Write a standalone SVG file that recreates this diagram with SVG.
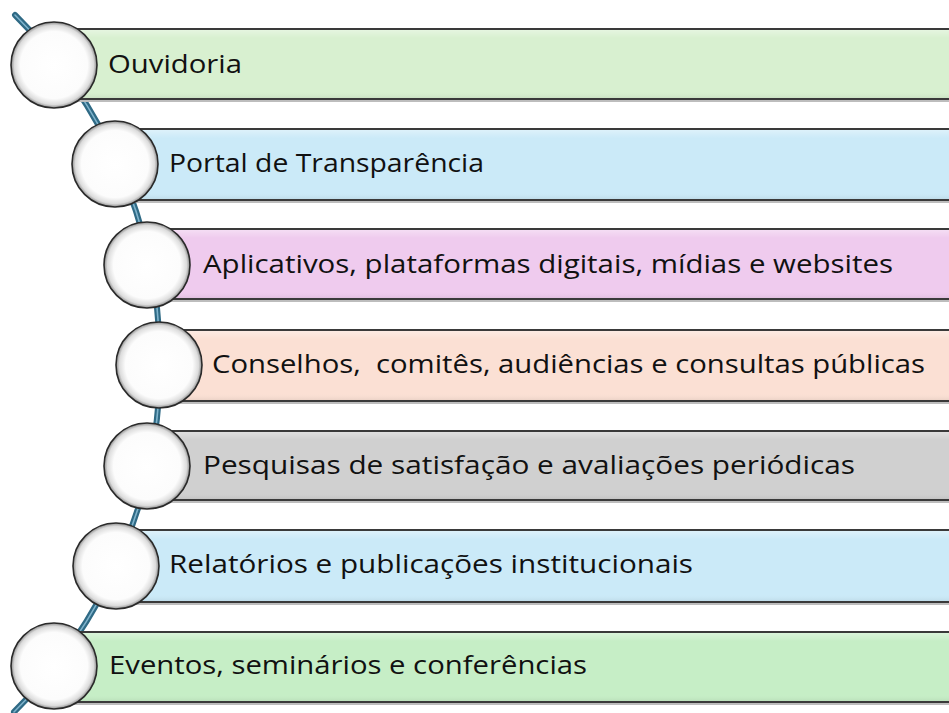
<svg xmlns="http://www.w3.org/2000/svg" width="949" height="713" viewBox="0 0 949 713">
<defs>
<radialGradient id="ball" cx="50%" cy="50%" r="50%">
<stop offset="0" stop-color="#ffffff"/>
<stop offset="0.78" stop-color="#fcfcfc"/>
<stop offset="0.92" stop-color="#dcdcdc"/>
<stop offset="1" stop-color="#8c8c8c"/>
</radialGradient>
<linearGradient id="sheen" x1="0" y1="0" x2="0" y2="1">
<stop offset="0" stop-color="#ffffff" stop-opacity="0.35"/>
<stop offset="0.12" stop-color="#ffffff" stop-opacity="0"/>
<stop offset="0.9" stop-color="#ffffff" stop-opacity="0"/>
<stop offset="1" stop-color="#000000" stop-opacity="0.06"/>
</linearGradient>
</defs>
<style>
.bar{stroke:#3a3a3a;stroke-width:2}
.shade{fill:url(#sheen)}
.shadow{fill:#bdbdbd}
.ball{fill:url(#ball);stroke:#2a2a2a;stroke-width:1.6}
.lbl{font-family:"Open Sans","Liberation Sans",sans-serif;font-size:25px;fill:#111111}
</style>
<g id="connectors">
<path d="M15,15 A490,490 0 0 1 14,712" fill="none" stroke="#2f6a85" stroke-width="6" stroke-linecap="round"/>
<path d="M15,15 A490,490 0 0 1 14,712" fill="none" stroke="#7fb3cc" stroke-width="1.6" stroke-linecap="round"/>
</g>
<g id="n1">
<rect class="shadow" x="54" y="100" width="900" height="2"/>
<rect class="bar" x="54" y="29" width="900" height="70" fill="#d8f0d0"/>
<rect class="shade" x="55" y="30" width="898" height="68"/>
<circle class="ball" cx="54" cy="65" r="43"/>
<text class="lbl" x="108" y="73" textLength="134" lengthAdjust="spacingAndGlyphs">Ouvidoria</text>
</g>
<g id="n2">
<rect class="shadow" x="115" y="201" width="840" height="2"/>
<rect class="bar" x="115" y="129" width="840" height="71" fill="#cbeaf8"/>
<rect class="shade" x="116" y="130" width="838" height="69"/>
<circle class="ball" cx="115" cy="164" r="43"/>
<text class="lbl" x="169" y="172" textLength="315" lengthAdjust="spacingAndGlyphs">Portal de Transparência</text>
</g>
<g id="n3">
<rect class="shadow" x="147" y="300" width="810" height="2"/>
<rect class="bar" x="147" y="229" width="810" height="70" fill="#efcbee"/>
<rect class="shade" x="148" y="230" width="808" height="68"/>
<circle class="ball" cx="147" cy="265" r="43"/>
<text class="lbl" x="203" y="273" textLength="690" lengthAdjust="spacingAndGlyphs">Aplicativos, plataformas digitais, mídias e websites</text>
</g>
<g id="n4">
<rect class="shadow" x="159" y="402" width="800" height="2"/>
<rect class="bar" x="159" y="330" width="800" height="71" fill="#fbe0d4"/>
<rect class="shade" x="160" y="331" width="798" height="69"/>
<circle class="ball" cx="159" cy="365" r="43"/>
<text class="lbl" x="212" y="373" textLength="713" lengthAdjust="spacingAndGlyphs" xml:space="preserve">Conselhos,  comitês, audiências e consultas públicas</text>
</g>
<g id="n5">
<rect class="shadow" x="147" y="501" width="810" height="2"/>
<rect class="bar" x="147" y="431" width="810" height="69" fill="#d0d0d0"/>
<rect class="shade" x="148" y="432" width="808" height="67"/>
<circle class="ball" cx="147" cy="466" r="43"/>
<text class="lbl" x="203" y="474" textLength="652" lengthAdjust="spacingAndGlyphs">Pesquisas de satisfação e avaliações periódicas</text>
</g>
<g id="n6">
<rect class="shadow" x="116" y="603" width="840" height="2"/>
<rect class="bar" x="116" y="530" width="840" height="72" fill="#cbeaf8"/>
<rect class="shade" x="117" y="531" width="838" height="70"/>
<circle class="ball" cx="116" cy="566" r="43"/>
<text class="lbl" x="169" y="573" textLength="524" lengthAdjust="spacingAndGlyphs">Relatórios e publicações institucionais</text>
</g>
<g id="n7">
<rect class="shadow" x="54" y="703" width="900" height="2"/>
<rect class="bar" x="54" y="632" width="900" height="70" fill="#c6eec6"/>
<rect class="shade" x="55" y="633" width="898" height="68"/>
<circle class="ball" cx="54" cy="666" r="43"/>
<text class="lbl" x="109" y="674" textLength="478" lengthAdjust="spacingAndGlyphs">Eventos, seminários e conferências</text>
</g>
</svg>
